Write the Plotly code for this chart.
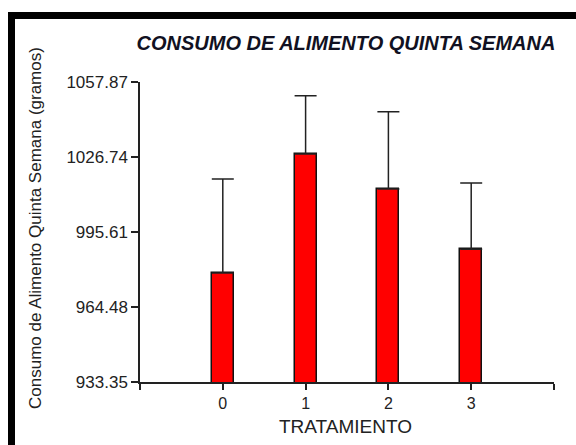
import plotly.graph_objects as go

# Data
tratamientos = [0, 1, 2, 3]
consumo = [978.6, 1028.0, 1013.5, 988.4]
error_sup = [39.0, 24.2, 32.0, 27.5]
y_ticks = [933.35, 964.48, 995.61, 1026.74, 1057.87]
x_ticks = [-1, 0, 1, 2, 3, 4]
x_tick_text = ["", "0", "1", "2", "3", ""]

title_text = "CONSUMO DE ALIMENTO QUINTA SEMANA"
y_title = "Consumo de Alimento Quinta Semana (gramos)"
x_title = "TRATAMIENTO"

FONT = "Liberation Sans, Arial, sans-serif"
AX = "#222222"

fig = go.Figure()
fig.add_trace(go.Bar(
    x=tratamientos,
    y=consumo,
    width=0.265,
    marker=dict(color="#ff0000", line=dict(color="#111111", width=1.5)),
    error_y=dict(type="data", array=error_sup, arrayminus=[0] * len(error_sup),
                 symmetric=False, color=AX, thickness=1.5, width=11),
    showlegend=False,
))

fig.update_layout(
    width=576, height=445,
    margin=dict(l=140, r=22, t=82, b=63),
    paper_bgcolor="white", plot_bgcolor="white",
    font=dict(family=FONT, color=AX, size=17),
    title=dict(text="<b><i>" + title_text + "</i></b>", xref="container", yref="container",
               x=346 / 576, y=1 - 43 / 445, xanchor="center", yanchor="middle",
               font=dict(family=FONT, size=20, color="#111122")),
    bargap=0,
    xaxis=dict(range=[-1, 4], tickvals=x_ticks, ticktext=x_tick_text,
               showgrid=False, zeroline=False, showline=True, linecolor=AX, linewidth=1.5,
               ticks="outside", ticklen=6, tickwidth=1.5, tickcolor=AX,
               tickfont=dict(size=16, color=AX)),
    yaxis=dict(range=[y_ticks[0], y_ticks[-1]], tickvals=y_ticks,
               ticktext=[f"{v:.2f}" for v in y_ticks],
               showgrid=False, zeroline=False, showline=True, linecolor=AX, linewidth=1.5,
               ticks="outside", ticklen=7, tickwidth=1.5, tickcolor=AX,
               tickfont=dict(size=17, color=AX)),
    annotations=[
        dict(text=y_title, xref="paper", yref="paper", x=(35 - 140) / 414, y=(382 - 228) / 300,
             textangle=-90, showarrow=False, xanchor="center", yanchor="middle",
             font=dict(family=FONT, size=17, color=AX)),
        dict(text=x_title, xref="paper", yref="paper", x=(345 - 140) / 414, y=(382 - 426) / 300,
             showarrow=False, xanchor="center", yanchor="middle",
             font=dict(family=FONT, size=19, color=AX)),
    ],
    shapes=[
        dict(type="rect", xref="paper", yref="paper",
             x0=(11.5 - 140) / 414, x1=(600 - 140) / 414,
             y0=(382 - 470) / 300, y1=(382 - 15.5) / 300,
             line=dict(color="black", width=7), fillcolor="rgba(0,0,0,0)", layer="above"),
    ],
)

fig.write_html("out.html", config={"displayModeBar": False},
               post_script="document.body.style.margin='0';")
